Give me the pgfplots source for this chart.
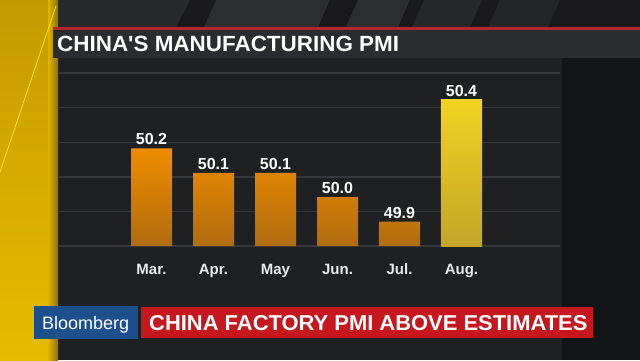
\documentclass[border=0pt]{standalone}
\usepackage{pgfplots}
\pgfplotsset{compat=1.18}
\usepackage{pgfplotstable}
\usepackage{fontspec}
\setmainfont{Liberation Sans}

\definecolor{panel}{HTML}{1F2022}
\definecolor{rightdark}{HTML}{131415}
\definecolor{topdark}{HTML}{19191B}
\definecolor{topstripe}{HTML}{2C2D2F}
\definecolor{titlebar}{HTML}{2B2C2F}
\definecolor{titlered}{HTML}{B3262A}
\definecolor{gridc}{HTML}{37383B}
\definecolor{basec}{HTML}{55565A}
\definecolor{orangeTop}{HTML}{EF8C00}
\definecolor{orangeBot}{HTML}{B06C10}
\definecolor{yellowTop}{HTML}{F2D322}
\definecolor{yellowBot}{HTML}{C4A526}
\definecolor{goldTop}{HTML}{C59A00}
\definecolor{goldBot}{HTML}{E6BC00}
\definecolor{goldShadow}{HTML}{8E7000}
\definecolor{bbgblue}{HTML}{1D4F8D}
\definecolor{bbgred}{HTML}{C6171E}

\pgfplotstableread{
i v
0 50.2
1 50.1
2 50.1
3 50.0
4 49.9
}\orangedata
\pgfplotstableread{
i v
5 50.4
}\yellowdata

\begin{document}
\begin{tikzpicture}
\begin{scope}[x=1bp,y=-1bp,yshift=360bp]
  \path[use as bounding box] (0,0) rectangle (640,360);
  % base background
  \fill[topdark] (0,0) rectangle (640,360);
  % top diagonal stripes
  \fill[topstripe!80!topdark] (58,0) -- (190,0) -- (176,27) -- (58,27) -- cycle;
  \fill[topstripe] (216,0) -- (330,0) -- (318,27) -- (204,27) -- cycle;
  \fill[topstripe] (358,0) -- (410,0) -- (398,27) -- (346,27) -- cycle;
  \fill[topstripe!70!topdark] (424,0) -- (482,0) -- (470,27) -- (412,27) -- cycle;
  \fill[topstripe!60!topdark] (500,0) -- (560,0) -- (548,27) -- (488,27) -- cycle;
  % chart panel and right dark area
  \fill[panel] (58,58) rectangle (562,360);
  \fill[rightdark] (562,58) rectangle (640,360);
  % left yellow strip
  \shade[top color=goldTop, bottom color=goldBot] (0,0) rectangle (52,360);
  \shade[left color=goldBot!80!goldTop, right color=goldShadow] (48,0) rectangle (58,360);
  \draw[color=yellow!80!goldBot, line width=0.8bp] (56,6) -- (0,172);
  % title bar
  \fill[titlered] (53,27) rectangle (640,30);
  \fill[titlebar] (53,30) rectangle (640,58);
  \node[anchor=base west, inner sep=0pt, text=white,
        font=\bfseries\fontsize{22bp}{22bp}\selectfont] at (57,52)
        {\scalebox{1.02}[1]{CHINA\textquotesingle S MANUFACTURING PMI}};
  % bottom bar
  \fill[bbgblue] (34,306) rectangle (138,339);
  \fill[bbgred] (141,307) rectangle (593,338);
  \node[anchor=base west, inner sep=0pt, text=white,
        font=\fontsize{18bp}{18bp}\selectfont] at (42,329) {Bloomberg};
  \node[anchor=base west, inner sep=0pt, text=white,
        font=\bfseries\fontsize{21.5bp}{21.5bp}\selectfont] at (149,330)
        {\scalebox{1.02}[1]{CHINA FACTORY PMI ABOVE ESTIMATES}};
\end{scope}

\begin{axis}[
  at={(59bp,114bp)}, anchor=south west,
  scale only axis, width=501bp, height=173bp,
  xmin=-1.492, xmax=6.589,
  ymin=0, ymax=0.709,
  enlargelimits=false, clip=false,
  axis line style={draw=none},
  tick style={draw=none},
  ytick={0.143,0.283,0.426,0.566,0.709},
  yticklabels={},
  ymajorgrids,
  major grid style={color=gridc, line width=1.1bp},
  extra y ticks={0},
  extra y tick labels={},
  extra y tick style={grid style={color=basec, line width=1.6bp}},
  xtick={0,1,2,3,4,5},
  xticklabels={Mar.,Apr.,May,Jun.,Jul.,Aug.},
  xticklabel style={anchor=base, yshift=-28.5bp, text=white!92!black,
        font=\bfseries\fontsize{15bp}{15bp}\selectfont},
  /pgf/number format/assume math mode=true,
  nodes near coords style={anchor=base, yshift=3.5bp, text=white,
        font=\bfseries\fontsize{16bp}{16bp}\selectfont,
        /pgf/number format/.cd, fixed, zerofill, precision=1},
]
\addplot[ybar, bar width=41bp, bar shift=0pt, draw=none,
  top color=orangeTop, bottom color=orangeBot,
  point meta=\thisrow{v}, nodes near coords]
  table[x=i, y expr=\thisrow{v}-49.8] {\orangedata};
\addplot[ybar, bar width=41bp, bar shift=0pt, draw=none,
  top color=yellowTop, bottom color=yellowBot,
  point meta=\thisrow{v}, nodes near coords]
  table[x=i, y expr=\thisrow{v}-49.8] {\yellowdata};
\end{axis}
\end{tikzpicture}
\end{document}
